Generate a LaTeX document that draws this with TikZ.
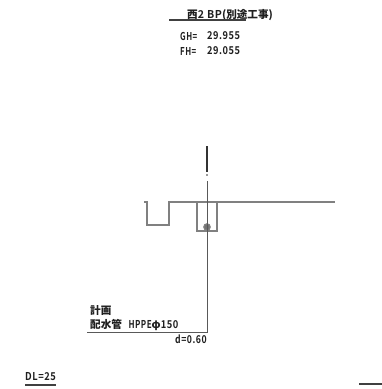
\documentclass[tikz,border=0pt]{standalone}
\usepackage{graphicx}
\usepackage{fontspec}
\setmainfont{Noto Sans CJK JP}
\newfontfamily\latinwide{Noto Sans CJK JP}[LetterSpace=6,BoldFont={Noto Sans CJK JP Bold}]
\definecolor{ink}{gray}{0.12}
\definecolor{ln}{gray}{0.5}
\tikzset{
  lblc/.style={inner sep=0pt,anchor=west,text=ink,font=\fontsize{10.6}{11}\selectfont\bfseries},
  pipe/.style={draw=ln,line width=1.2pt},
  thin line/.style={draw=black!65,line width=0.9pt},
  heavy/.style={draw=black!75,line width=1.1pt}
}
\newcommand{\lat}[2]{\scalebox{#1}[1.02]{\latinwide #2}}
\begin{document}
\begin{tikzpicture}[x=1pt,y=-1pt]
\useasboundingbox (0,0) rectangle (382,389);
\fill[white] (0,0) rectangle (382,389);
% header
\node[lblc] (title) at (187,15) {西\lat{1}{2 BP}(別途工事)};
\draw[heavy] (169,20) -- (246,20);
\node[lblc] (gh) at (180,36) {\lat{0.74}{GH=}};
\node[lblc] (ghv) at (207,36) {\lat{0.87}{29.955}};
\node[lblc] (fh) at (180,51) {\lat{0.74}{FH=}};
\node[lblc] (fhv) at (207,51) {\lat{0.87}{29.055}};
% centre line
\draw[draw=black!80,line width=1.3pt] (207,146) -- (207,172);
\fill[black!80] (207,175) circle (0.9);
% ground
\draw[pipe] (144,202) -- (147,202) -- (147,225) -- (169,225) -- (169,202) -- (335,202);
% trench
\draw[pipe] (197,202) -- (197,231) -- (217,231) -- (217,202);
\draw[pipe,fill=black!55] (207,227) circle (3.2);
% leader
\coordinate (ltop) at (207,181);
\coordinate (lcor) at (207,332);
\coordinate (lend) at (87,332);
\draw[thin line] (ltop) -- (lcor) -- (lend);
\node[lblc] (plan) at (90,310) {計画};
\node[lblc] (pipe label) at (90,325) {配水管\hspace{6.5pt}\lat{0.76}{HPPE}φ\lat{0.88}{150}};
\node[lblc] (depth) at (175,339.5) {\lat{0.82}{d=0.60}};
% scale
\node[lblc] (dl) at (25,377) {\lat{0.88}{DL=25}};
\draw[heavy] (25,385) -- (56,385);
\draw[heavy] (359,384) -- (382,384);
\end{tikzpicture}
\end{document}
